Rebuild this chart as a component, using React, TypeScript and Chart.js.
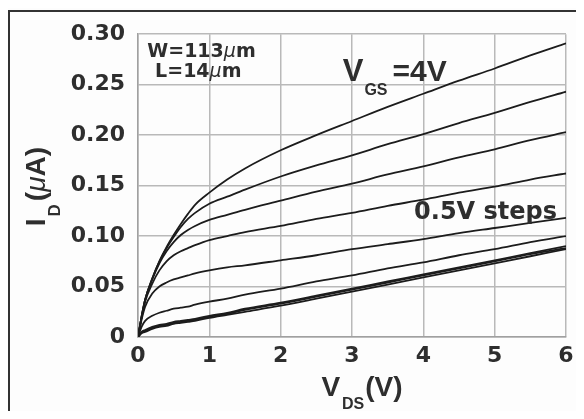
import { useEffect, useRef } from "react";
import { Chart, registerables } from "chart.js";

Chart.register(...registerables);

// Drain voltage samples (V)
const vds = [0, 0.05, 0.1, 0.2, 0.3, 0.4, 0.5, 0.6, 0.7, 0.8, 1, 1.25, 1.5, 2, 2.5, 3, 3.5, 4, 4.5, 5, 5.5, 6];

// Drain current (uA) per gate voltage
const idVgs40 = [0, 0.020, 0.037, 0.058, 0.075, 0.089, 0.101, 0.112, 0.122, 0.131, 0.143, 0.156, 0.167, 0.185, 0.200, 0.214, 0.228, 0.241, 0.254, 0.266, 0.279, 0.291];
const idVgs35 = [0, 0.020, 0.037, 0.058, 0.075, 0.088, 0.099, 0.109, 0.117, 0.123, 0.132, 0.139, 0.146, 0.159, 0.170, 0.180, 0.191, 0.201, 0.212, 0.222, 0.233, 0.243];
const idVgs30 = [0, 0.020, 0.037, 0.057, 0.073, 0.085, 0.094, 0.101, 0.106, 0.110, 0.116, 0.121, 0.126, 0.135, 0.144, 0.152, 0.161, 0.169, 0.178, 0.186, 0.195, 0.203];
const idVgs25 = [0, 0.019, 0.035, 0.053, 0.066, 0.075, 0.081, 0.085, 0.088, 0.091, 0.096, 0.100, 0.104, 0.110, 0.117, 0.123, 0.130, 0.136, 0.143, 0.149, 0.156, 0.162];
const idVgs20 = [0, 0.017, 0.030, 0.043, 0.050, 0.054, 0.057, 0.059, 0.061, 0.063, 0.066, 0.069, 0.071, 0.076, 0.081, 0.087, 0.092, 0.097, 0.103, 0.108, 0.113, 0.118];
const idVgs15 = [0, 0.010, 0.016, 0.021, 0.024, 0.026, 0.028, 0.029, 0.030, 0.032, 0.035, 0.038, 0.042, 0.048, 0.055, 0.061, 0.068, 0.074, 0.081, 0.087, 0.094, 0.100];
const idVgs10 = [0, 0.005, 0.007, 0.010, 0.012, 0.013, 0.015, 0.016, 0.017, 0.018, 0.021, 0.024, 0.028, 0.034, 0.041, 0.048, 0.055, 0.062, 0.069, 0.076, 0.083, 0.090];
const idVgs05 = [0, 0.004, 0.006, 0.009, 0.011, 0.012, 0.014, 0.015, 0.016, 0.017, 0.020, 0.023, 0.027, 0.033, 0.040, 0.047, 0.054, 0.061, 0.068, 0.075, 0.082, 0.088];
const idVgs00 = [0, 0.004, 0.005, 0.008, 0.010, 0.011, 0.013, 0.014, 0.015, 0.016, 0.019, 0.022, 0.025, 0.031, 0.038, 0.045, 0.052, 0.059, 0.066, 0.073, 0.080, 0.087];

const seriesList = [idVgs40, idVgs35, idVgs30, idVgs25, idVgs20, idVgs15, idVgs10, idVgs05, idVgs00];
const seriesNames = ["4V", "3.5V", "3V", "2.5V", "2V", "1.5V", "1V", "0.5V", "0V"];

const yTickValues = [0, 0.05, 0.1, 0.15, 0.2, 0.25, 0.3];
const yTickLabels = ["0", "0.05", "0.10", "0.15", "0.20", "0.25", "0.30"];
const xTickLabels = ["0", "1", "2", "3", "4", "5", "6"];

const FONT = '"DejaVu Sans", "Liberation Sans", sans-serif';
const ARIAL = '"Liberation Sans", Arial, sans-serif';
const TEXT = "#2e2e2e";

type Run = { t: string; s: number; w?: string; it?: boolean; dy?: number; dx?: number; f?: string };

function setFont(ctx: CanvasRenderingContext2D, r: Run) {
  ctx.font = `${r.it ? "italic" : "normal"} ${r.w || "bold"} ${r.s}px ${r.f || FONT}`;
}

function runsWidth(ctx: CanvasRenderingContext2D, runs: Run[]) {
  let w = 0;
  for (const r of runs) {
    setFont(ctx, r);
    w += (r.dx || 0) + ctx.measureText(r.t).width;
  }
  return w;
}

function drawRuns(ctx: CanvasRenderingContext2D, runs: Run[], x0: number, y0: number) {
  let cx = x0;
  for (const r of runs) {
    setFont(ctx, r);
    cx += r.dx || 0;
    ctx.fillText(r.t, cx, y0 + (r.dy || 0));
    cx += ctx.measureText(r.t).width;
  }
}

const textPlugin = {
  id: "textPlugin",
  afterDraw(chart: any) {
    const { ctx, chartArea } = chart;
    const xs = chart.scales.x;
    const ys = chart.scales.y;
    ctx.save();
    ctx.fillStyle = TEXT;
    ctx.textBaseline = "alphabetic";
    ctx.textAlign = "left";

    // Device annotation
    drawRuns(ctx, [{ t: "W=113", s: 19 }, { t: "μ", s: 19, it: true, w: "normal" }, { t: "m", s: 19 }], xs.getPixelForValue(0.13), ys.getPixelForValue(0.277));
    drawRuns(ctx, [{ t: "L=14", s: 19 }, { t: "μ", s: 19, it: true, w: "normal" }, { t: "m", s: 19 }], xs.getPixelForValue(0.24), ys.getPixelForValue(0.258));

    // VGS label
    drawRuns(
      ctx,
      [
        { t: "V", s: 31, f: ARIAL },
        { t: "GS", s: 16, dy: 14, dx: 1, f: ARIAL },
        { t: "=4V", s: 30, dx: 5, f: ARIAL },
      ],
      xs.getPixelForValue(2.87),
      ys.getPixelForValue(0.254)
    );

    // steps label
    drawRuns(ctx, [{ t: "0.5V steps", s: 24 }], xs.getPixelForValue(3.87), ys.getPixelForValue(0.117));

    // X axis title
    const xr: Run[] = [
      { t: "V", s: 28, f: ARIAL },
      { t: "DS", s: 16, dy: 13, dx: 2, f: ARIAL },
      { t: "(V)", s: 28, dx: 1, f: ARIAL },
    ];
    const xw = runsWidth(ctx, xr);
    drawRuns(ctx, xr, (chartArea.left + chartArea.right) / 2 + 10 - xw / 2, chartArea.bottom + 59);

    // Y axis title (rotated)
    const yr: Run[] = [
      { t: "I", s: 28, f: ARIAL },
      { t: "D", s: 17, dy: 15, dx: 2, f: ARIAL },
      { t: "(", s: 28, dx: 3, f: ARIAL },
      { t: "μ", s: 28, it: true, w: "normal", f: ARIAL },
      { t: "A)", s: 28, f: ARIAL },
    ];
    const yw = runsWidth(ctx, yr);
    ctx.translate(chartArea.left - 93, (chartArea.top + chartArea.bottom) / 2 + 1);
    ctx.rotate(-Math.PI / 2);
    drawRuns(ctx, yr, -yw / 2, 0);
    ctx.restore();
  },
};

export default function App() {
  const ref = useRef<HTMLCanvasElement>(null);

  useEffect(() => {
    const canvas = ref.current!;
    const chart = new Chart(canvas, {
      type: "line",
      data: {
        datasets: seriesList.map((arr, i) => ({
          label: seriesNames[i],
          data: vds.map((v, k) => ({ x: v, y: arr[k] })),
          borderColor: "#1c1c1c",
          borderWidth: 1.8,
          pointRadius: 0,
          fill: false,
          cubicInterpolationMode: "monotone" as const,
        })),
      },
      options: {
        responsive: false,
        animation: false,
        layout: { padding: { left: 0, right: 18, top: 24, bottom: 0 } },
        plugins: { legend: { display: false }, tooltip: { enabled: false }, title: { display: false } },
        scales: {
          x: {
            type: "linear",
            min: 0,
            max: 6,
            afterBuildTicks: (s: any) => {
              s.ticks = xTickLabels.map((_, i) => ({ value: i }));
            },
            afterFit: (s: any) => {
              s.height = 82;
            },
            ticks: {
              padding: 6,
              color: TEXT,
              font: { family: FONT, size: 22, weight: "bold" },
              callback: (_v: any, i: number) => xTickLabels[i],
              maxRotation: 0,
            },
            grid: { color: "#b9b9b9", lineWidth: 1.5, drawTicks: false },
            border: { display: true, color: "#a0a0a0", width: 1.5 },
          },
          y: {
            type: "linear",
            min: 0,
            max: 0.3,
            afterBuildTicks: (s: any) => {
              s.ticks = yTickValues.map((v) => ({ value: v }));
            },
            afterFit: (s: any) => {
              s.width = 130;
            },
            ticks: {
              padding: 13,
              color: TEXT,
              font: { family: FONT, size: 22, weight: "bold" },
              callback: (_v: any, i: number) => yTickLabels[i],
            },
            grid: { color: "#b9b9b9", lineWidth: 1.5, drawTicks: false },
            border: { display: true, color: "#a0a0a0", width: 1.5 },
          },
        },
      },
      plugins: [textPlugin],
    } as any);
    return () => chart.destroy();
  }, []);

  return (
    <div style={{ position: "relative", width: 576, height: 411, marginBottom: -8, background: "#fdfdfd" }}>
      <div
        style={{
          position: "absolute",
          left: 0,
          top: 2,
          width: 576,
          height: 409,
          boxSizing: "border-box",
          borderTop: "2px solid #333",
          borderLeft: "2px solid #333",
        }}
      />
      <canvas ref={ref} width={576} height={411} style={{ position: "absolute", left: 0, top: 0 }} />
    </div>
  );
}
